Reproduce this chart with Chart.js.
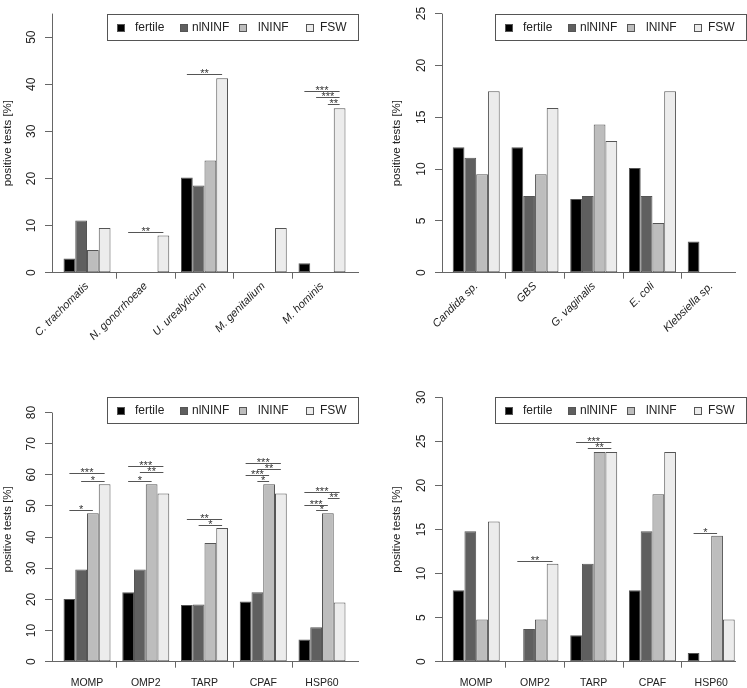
<!DOCTYPE html>
<html>
<head>
<meta charset="utf-8">
<title>positive tests</title>
<script src="https://cdn.jsdelivr.net/npm/chart.js@4.4.1/dist/chart.umd.min.js"></script>
<style>
  html, body { margin: 0; padding: 0; background: #fff; }
  body { position: relative; width: 747px; height: 688px; overflow: hidden; }
  canvas { position: absolute; }
</style>
</head>
<body>
<canvas id="panel-sti" width="373" height="344" style="left:0;top:0"></canvas>
<canvas id="panel-flora" width="374" height="344" style="left:373px;top:0"></canvas>
<canvas id="panel-antigen-a" width="373" height="344" style="left:0;top:344px"></canvas>
<canvas id="panel-antigen-b" width="374" height="344" style="left:373px;top:344px"></canvas>
<script>
// groups (same in all four panels)
const groups = ["fertile", "nlNINF", "lNINF", "FSW"];
const groupColors = ["#000000", "#5f5f5f", "#bdbdbd", "#ececec"];

// top left: STI pathogens
const stiLabels = ["C. trachomatis", "N. gonorrhoeae", "U. urealyticum", "M. genitalium", "M. hominis"];
const stiFertile = [3.0, 0, 20.2, 0, 2.0];
const stiNlninf = [11.1, 0, 18.5, 0, 0];
const stiLninf = [4.8, 0, 23.8, 0, 0];
const stiFsw = [9.5, 7.9, 41.3, 9.5, 34.9];
const stiTicks = [0, 10, 20, 30, 40, 50];
// [category, from group, to group, height, label]
const stiSig = [
  [1, 0, 3, 8.6, "**"],
  [2, 0, 3, 42.0, "**"],
  [4, 0, 3, 38.5, "***"],
  [4, 1, 3, 37.1, "***"],
  [4, 2, 3, 35.6, "**"],
];

// top right: vaginal flora
const floraLabels = ["Candida sp.", "GBS", "G. vaginalis", "E. coli", "Klebsiella sp."];
const floraFertile = [12.1, 12.1, 7.1, 10.1, 3.0];
const floraNlninf = [11.1, 7.4, 7.4, 7.4, 0];
const floraLninf = [9.5, 9.5, 14.3, 4.8, 0];
const floraFsw = [17.5, 15.9, 12.7, 17.5, 0];
const floraTicks = [0, 5, 10, 15, 20, 25];
const floraSig = [];

// bottom left: antigens
const antigenLabels = ["MOMP", "OMP2", "TARP", "CPAF", "HSP60"];
const agAFertile = [20.1, 22.3, 18.2, 19.3, 7.1];
const agANlninf = [29.6, 29.6, 18.4, 22.3, 11.1];
const agALninf = [47.7, 57.0, 38.1, 57.0, 47.7];
const agAFsw = [57.0, 54.0, 42.9, 54.0, 19.0];
const agATicks = [0, 10, 20, 30, 40, 50, 60, 70, 80];
const agASig = [
  [0, 0, 3, 60.3, "***"], [0, 1, 3, 58.0, "*"], [0, 0, 2, 48.4, "*"],
  [1, 0, 3, 62.7, "***"], [1, 1, 3, 60.7, "**"], [1, 0, 2, 58.0, "*"],
  [2, 0, 3, 45.6, "**"], [2, 1, 3, 43.6, "*"],
  [3, 0, 3, 63.7, "***"], [3, 1, 3, 61.8, "**"], [3, 0, 2, 59.9, "***"], [3, 1, 2, 58.0, "*"],
  [4, 0, 3, 54.2, "***"], [4, 2, 3, 52.3, "**"], [4, 0, 2, 50.3, "***"], [4, 1, 2, 48.4, "*"],
];

// bottom right: antigens
const agBFertile = [8.1, 0, 3.0, 8.1, 1.0];
const agBNlninf = [14.8, 3.7, 11.1, 14.8, 0];
const agBLninf = [4.8, 4.8, 23.8, 19.0, 14.3];
const agBFsw = [15.9, 11.1, 23.8, 23.8, 4.8];
const agBTicks = [0, 5, 10, 15, 20, 25, 30];
const agBSig = [
  [1, 0, 3, 11.4, "**"],
  [2, 0, 3, 24.9, "***"],
  [2, 1, 3, 24.2, "**"],
  [4, 0, 2, 14.6, "*"],
];

const FONT = "'Liberation Sans', Arial, Helvetica, sans-serif";
const TEXT_COLOR = "#222";
const AXIS_COLOR = "#666";
const BAR_BORDER = "#555";

const LEGEND_W = 251;
const LEGEND_H = 26;
const SWATCH_X = [10, 73, 132, 199];
const TEXT_X = [28, 85, 151, 213];

Chart.defaults.font.family = FONT;
Chart.defaults.color = TEXT_COLOR;

function alignPx(v) {
  return Math.round(v - 0.5) + 0.5;
}

function makePanel(canvasId, cfg) {
  const datasets = groups.map((name, k) => ({
    label: name,
    data: cfg.series[k].map((v, i) => ({ x: i, y: v })),
    backgroundColor: groupColors[k],
    borderColor: BAR_BORDER,
    borderWidth: 1,
    borderSkipped: false,
    categoryPercentage: 0.8,
    barPercentage: 1.0,
  }));

  // y axis line only from 0 to the last drawn value
  const axisLine = {
    id: "axisLine",
    afterDraw(chart) {
      const y = chart.scales.y;
      const ctx = chart.ctx;
      const x = alignPx(chart.chartArea.left);
      ctx.save();
      ctx.strokeStyle = AXIS_COLOR;
      ctx.lineWidth = 1;
      ctx.beginPath();
      ctx.moveTo(x, y.getPixelForValue(0));
      ctx.lineTo(x, y.getPixelForValue(cfg.axisEnd));
      ctx.stroke();
      ctx.restore();
    },
  };

  // significance bars
  const sigBars = {
    id: "sigBars",
    afterDatasetsDraw(chart) {
      const ctx = chart.ctx;
      const y = chart.scales.y;
      ctx.save();
      ctx.strokeStyle = "#555";
      ctx.lineWidth = 1;
      ctx.fillStyle = "#333";
      ctx.font = "11px " + FONT;
      ctx.textAlign = "center";
      ctx.textBaseline = "alphabetic";
      cfg.sig.forEach(([cat, from, to, h, stars]) => {
        const x1 = chart.getDatasetMeta(from).data[cat].x;
        const x2 = chart.getDatasetMeta(to).data[cat].x;
        const py = alignPx(y.getPixelForValue(h));
        ctx.beginPath();
        ctx.moveTo(x1, py);
        ctx.lineTo(x2, py);
        ctx.stroke();
        ctx.fillText(stars, (x1 + x2) / 2, py + 2.5);
      });
      ctx.restore();
    },
  };

  // boxed horizontal legend, top right
  const boxLegend = {
    id: "boxLegend",
    afterDraw(chart) {
      const ctx = chart.ctx;
      const area = chart.chartArea;
      const right = area.right + cfg.legendOverhang;
      const left = Math.round(right - LEGEND_W);
      const top = Math.round(area.top);
      const midY = top + 14;
      ctx.save();
      ctx.fillStyle = "#fff";
      ctx.fillRect(left, top, LEGEND_W, LEGEND_H);
      ctx.strokeStyle = "#555";
      ctx.lineWidth = 1;
      ctx.strokeRect(left + 0.5, top + 0.5, LEGEND_W, LEGEND_H);
      ctx.font = "12px " + FONT;
      ctx.textBaseline = "middle";
      ctx.textAlign = "left";
      chart.data.datasets.forEach((ds, i) => {
        ctx.fillStyle = ds.backgroundColor;
        ctx.fillRect(left + SWATCH_X[i], midY - 4, 8, 8);
        ctx.strokeStyle = BAR_BORDER;
        ctx.strokeRect(left + SWATCH_X[i] + 0.5, midY - 3.5, 7, 7);
        ctx.fillStyle = TEXT_COLOR;
        ctx.fillText(ds.label, left + TEXT_X[i], midY);
      });
      ctx.restore();
    },
  };

  const nCats = cfg.labels.length;

  return new Chart(document.getElementById(canvasId).getContext("2d"), {
    type: "bar",
    data: { datasets: datasets },
    plugins: [axisLine, sigBars, boxLegend],
    options: {
      responsive: false,
      devicePixelRatio: 1,
      animation: false,
      events: [],
      layout: { padding: { top: cfg.padTop, right: cfg.padRight, bottom: 0, left: 0 } },
      plugins: {
        legend: { display: false },
        tooltip: { enabled: false },
      },
      scales: {
        x: {
          type: "linear",
          min: cfg.xMin,
          max: cfg.xMax,
          offset: false,
          afterBuildTicks: (scale) => {
            scale.ticks = cfg.labels.map((_, i) => ({ value: i }));
          },
          afterFit: (scale) => {
            scale.height = cfg.xAxisH;
          },
          ticks: {
            autoSkip: false,
            minRotation: cfg.rotation,
            maxRotation: cfg.rotation,
            padding: cfg.xLabelPad,
            color: TEXT_COLOR,
            font: { size: cfg.xFontSize, style: cfg.rotation ? "italic" : "normal" },
            callback: (v) => cfg.labels[v] ?? "",
          },
          grid: {
            display: true,
            offset: true,
            drawOnChartArea: false,
            drawTicks: true,
            tickLength: 6,
            tickColor: (c) => (c.index > 0 && c.index < nCats ? AXIS_COLOR : "rgba(0,0,0,0)"),
          },
          border: { display: true, color: AXIS_COLOR, width: 1 },
        },
        y: {
          type: "linear",
          min: 0,
          max: cfg.yMax,
          afterBuildTicks: (scale) => {
            scale.ticks = cfg.yTicks.map((v) => ({ value: v }));
          },
          afterFit: (scale) => {
            scale.width = cfg.yAxisW;
          },
          ticks: {
            minRotation: 90,
            maxRotation: 90,
            crossAlign: "center",
            padding: 6.4,
            color: TEXT_COLOR,
            font: { size: 12 },
          },
          grid: {
            display: true,
            drawOnChartArea: false,
            drawTicks: true,
            tickLength: 7,
            tickColor: AXIS_COLOR,
          },
          border: { display: false },
          title: {
            display: true,
            text: "positive tests [%]",
            color: TEXT_COLOR,
            font: { size: 11.5 },
            padding: { top: cfg.titlePad, bottom: 0 },
          },
        },
      },
    },
  });
}

makePanel("panel-sti", {
  labels: stiLabels,
  series: [stiFertile, stiNlninf, stiLninf, stiFsw],
  yTicks: stiTicks,
  sig: stiSig,
  yMax: 55, axisEnd: 55,
  xMin: -0.596, xMax: 4.613,
  padTop: 8, padRight: 15, yAxisW: 52, xAxisH: 71.3,
  rotation: 45, xFontSize: 11, xLabelPad: 1,
  titlePad: 1.4, legendOverhang: 0,
});

makePanel("panel-flora", {
  labels: floraLabels,
  series: [floraFertile, floraNlninf, floraLninf, floraFsw],
  yTicks: floraTicks,
  sig: floraSig,
  yMax: 25, axisEnd: 25,
  xMin: -0.582, xMax: 4.41,
  padTop: 8, padRight: 11.7, yAxisW: 69, xAxisH: 71.3,
  rotation: 45, xFontSize: 11, xLabelPad: 1,
  titlePad: 17.1, legendOverhang: 10.7,
});

makePanel("panel-antigen-a", {
  labels: antigenLabels,
  series: [agAFertile, agANlninf, agALninf, agAFsw],
  yTicks: agATicks,
  sig: agASig,
  yMax: 85, axisEnd: 80,
  xMin: -0.596, xMax: 4.613,
  padTop: 53, padRight: 15, yAxisW: 52, xAxisH: 26.3,
  rotation: 0, xFontSize: 10.5, xLabelPad: 9.5,
  titlePad: 1.4, legendOverhang: 0,
});

makePanel("panel-antigen-b", {
  labels: antigenLabels,
  series: [agBFertile, agBNlninf, agBLninf, agBFsw],
  yTicks: agBTicks,
  sig: agBSig,
  yMax: 30, axisEnd: 30,
  xMin: -0.582, xMax: 4.41,
  padTop: 53.3, padRight: 11.7, yAxisW: 69, xAxisH: 26.3,
  rotation: 0, xFontSize: 10.5, xLabelPad: 9.5,
  titlePad: 17.1, legendOverhang: 10.7,
});
</script>
</body>
</html>
